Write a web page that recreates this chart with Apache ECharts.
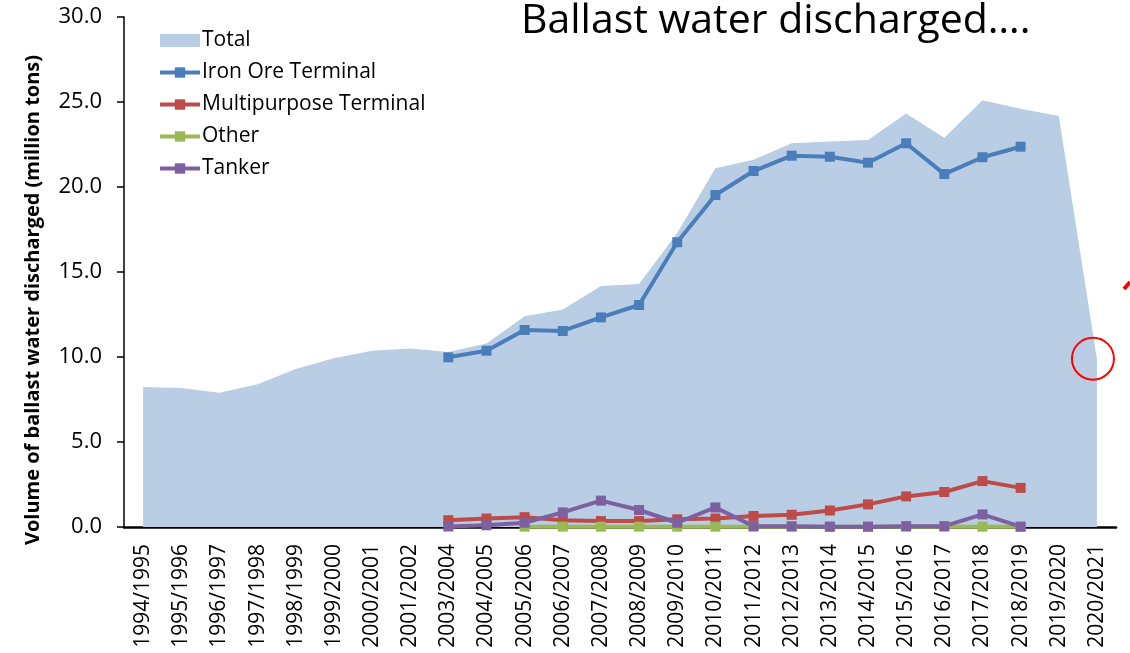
<!doctype html>
<html>
    <head>
        <meta charset="utf-8">
        <style>
            html, body { margin: 0; padding: 0; background: #fff; }
            #main { width: 1130px; height: 653px; }
        </style>
    </head>
    <body>
        <div id="main"></div>
        <script src="https://cdn.jsdelivr.net/npm/echarts@6/dist/echarts.min.js"></script>
        <script>
            var seasons = ['1994/1995', '1995/1996', '1996/1997', '1997/1998', '1998/1999', '1999/2000',
                '2000/2001', '2001/2002', '2003/2004', '2004/2005', '2005/2006', '2006/2007', '2007/2008',
                '2008/2009', '2009/2010', '2010/2011', '2011/2012', '2012/2013', '2013/2014', '2014/2015',
                '2015/2016', '2016/2017', '2017/2018', '2018/2019', '2019/2020', '2020/2021'];

            var total = [8.24, 8.17, 7.9, 8.4, 9.3, 9.93, 10.37, 10.5, 10.3, 10.8, 12.4, 12.8, 14.18,
                14.3, 17.3, 21.1, 21.6, 22.57, 22.67, 22.76, 24.33, 22.9, 25.1, 24.6, 24.18, 9.9];
            var ironOre = [null, null, null, null, null, null, null, null, 9.98, 10.37, 11.59, 11.53, 12.33,
                13.06, 16.75, 19.53, 20.94, 21.84, 21.78, 21.43, 22.57, 20.76, 21.75, 22.37, null, null];
            var multipurpose = [null, null, null, null, null, null, null, null, 0.4, 0.5, 0.58, 0.4, 0.35,
                0.35, 0.45, 0.5, 0.65, 0.72, 0.97, 1.33, 1.8, 2.06, 2.7, 2.3, null, null];
            var other = [null, null, null, null, null, null, null, null, null, null, 0.02, 0.02, 0.02,
                0.02, 0.02, 0.02, 0.02, 0.02, 0.02, 0.02, 0.02, 0.02, 0.02, 0.02, null, null];
            var tanker = [null, null, null, null, null, null, null, null, 0.03, 0.1, 0.25, 0.86, 1.55,
                1.0, 0.25, 1.15, 0.05, 0.04, 0.02, 0.02, 0.05, 0.05, 0.74, 0.02, null, null];

            var FONT = '"Open Sans", "Liberation Sans", sans-serif';

            var chart = echarts.init(document.getElementById('main'));

            function lineSeries(name, data, color) {
                return {
                    name: name,
                    type: 'line',
                    data: data,
                    symbol: 'rect',
                    symbolSize: 10,
                    color: color,
                    lineStyle: { width: 4, color: color },
                    itemStyle: { color: color }
                };
            }

            chart.setOption({
                animation: false,
                title: {
                    text: 'Ballast water discharged….',
                    left: 516,
                    top: -4,
                    textStyle: { fontFamily: FONT, fontSize: 41, fontWeight: 'normal', color: '#000' }
                },
                legend: {
                    orient: 'vertical',
                    left: 158,
                    top: 30,
                    padding: 0,
                    itemGap: 11,
                    itemWidth: 40,
                    itemHeight: 13,
                    lineStyle: { width: 4 },
                    textStyle: { fontFamily: FONT, fontSize: 21, lineHeight: 20, color: '#000', padding: [0, 0, 0, -3] },
                    data: [
                        { name: 'Total', icon: 'rect', itemStyle: { color: '#b9cde5' } },
                        'Iron Ore Terminal', 'Multipurpose Terminal', 'Other', 'Tanker'
                    ]
                },
                grid: { left: 124, right: 14, top: 17, bottom: 126 },
                xAxis: {
                    type: 'category',
                    data: seasons,
                    boundaryGap: true,
                    axisLine: { lineStyle: { color: '#000', width: 2.5 } },
                    axisTick: { length: 7, lineStyle: { color: '#000', width: 1.5 } },
                    axisLabel: {
                        rotate: 90, interval: 0, color: '#000', fontFamily: FONT, fontSize: 21, margin: 17
                    }
                },
                yAxis: {
                    type: 'value',
                    min: 0,
                    max: 30,
                    interval: 5,
                    name: 'Volume of ballast water discharged (million tons)',
                    nameLocation: 'middle',
                    nameGap: 81,
                    nameTextStyle: {
                        fontFamily: FONT, fontSize: 20, fontWeight: 'bold', color: '#000',
                        padding: [0, 56, 0, 0]
                    },
                    splitLine: { show: false },
                    axisLine: { show: true, lineStyle: { color: '#000', width: 1.5 } },
                    axisTick: { show: true, length: 7, lineStyle: { color: '#000', width: 1.5 } },
                    axisLabel: {
                        color: '#000', fontFamily: FONT, fontSize: 22, margin: 22,
                        formatter: function (v) { return v.toFixed(1); }
                    }
                },
                graphic: [{
                    type: 'line',
                    shape: { x1: 1124, y1: 289, x2: 1130, y2: 282 },
                    style: { stroke: '#ff0000', lineWidth: 4 }
                }],
                series: [
                    {
                        name: 'Total',
                        type: 'line',
                        data: total,
                        symbol: 'none',
                        color: '#b9cde5',
                        lineStyle: { width: 0 },
                        areaStyle: { color: '#b9cde5', opacity: 1 },
                        markPoint: {
                            symbol: 'circle',
                            symbolSize: 42,
                            symbolOffset: [-4, 0],
                            label: { show: false },
                            itemStyle: { color: 'rgba(0,0,0,0)', borderColor: '#ff0000', borderWidth: 2 },
                            data: [{ coord: [seasons.length - 1, total[total.length - 1]] }]
                        }
                    },
                    lineSeries('Iron Ore Terminal', ironOre, '#4a7ebb'),
                    lineSeries('Multipurpose Terminal', multipurpose, '#be4b48'),
                    lineSeries('Other', other, '#98b954'),
                    lineSeries('Tanker', tanker, '#7d60a0')
                ]
            });

            window.addEventListener('resize', function () {
                chart.resize();
            });
        </script>
    </body>
</html>
